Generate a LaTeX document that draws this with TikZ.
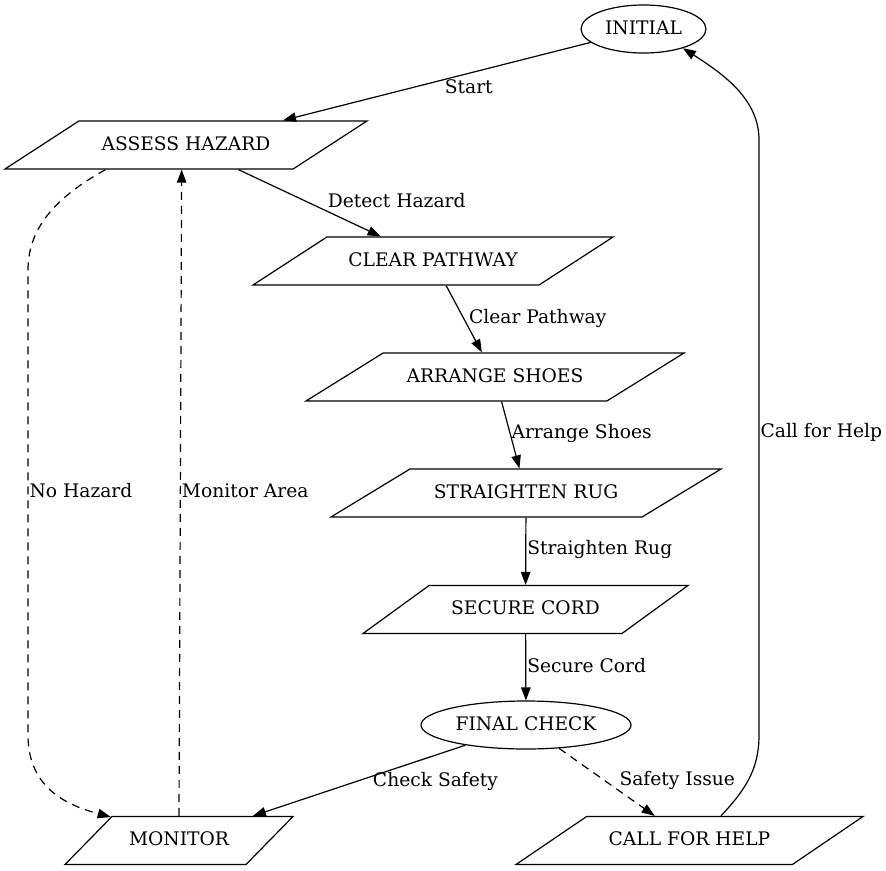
\documentclass[tikz,border=0pt]{standalone}
\usepackage{fontspec}
\setmainfont{DejaVu Serif}
\usetikzlibrary{arrows.meta,shapes.geometric}

\tikzset{
    state/.style={ellipse, draw, line width=1.2bp, inner sep=0pt, text height=14bp, text depth=4bp,
        minimum width=#1, minimum height=48bp},
    para/.style 2 args={trapezium, draw, line width=1.2bp, inner xsep=0pt, inner ysep=15bp,
        text height=14bp, text depth=4bp, trapezium stretches body, minimum width=#1,
        trapezium left angle=#2, trapezium right angle=180-#2},
    flow/.style={-{Triangle[length=13bp,width=9.5bp]}, line width=1.2bp},
    alt/.style={flow, dash pattern=on 8bp off 6bp},
    lbl/.style={inner sep=0pt}
}

\begin{document}
\begin{tikzpicture}[x=1bp, y=-1bp, font=\fontsize{18.67bp}{22bp}\selectfont]
    \useasboundingbox (0,0) rectangle (886,871);

    \node[state=125bp] (initial) at (643.5, 29) {INITIAL};
    \node[para={362bp}{33}] (assess) at (186, 145) {ASSESS HAZARD};
    \node[para={360bp}{33}] (clear) at (433, 261) {CLEAR PATHWAY};
    \node[para={378bp}{31.9}] (arrange) at (495, 377) {ARRANGE SHOES};
    \node[para={390bp}{31.3}] (straighten) at (526, 493) {STRAIGHTEN RUG};
    \node[para={325bp}{36}] (secure) at (525.5, 609.5) {SECURE CORD};
    \node[state=210bp] (final) at (526, 725) {FINAL CHECK};
    \node[para={228bp}{45.6}] (monitor) at (179, 840.5) {MONITOR};
    \node[para={347bp}{34.2}] (call) at (689.5, 840.5) {CALL FOR HELP};

    \draw[flow] (initial) -- (assess) node[lbl, pos=.396, yshift=-13bp] {Start};
    \draw[flow] (assess) -- (clear) node[lbl, pos=.47, anchor=west, xshift=22bp] {Detect Hazard};
    \draw[flow] (clear) -- (arrange) node[lbl, pos=.485, anchor=west, xshift=5bp] {Clear Pathway};
    \draw[flow] (arrange) -- (straighten) node[lbl, pos=.47, anchor=west, xshift=1bp] {Arrange Shoes};
    \draw[flow] (straighten) -- (secure) node[lbl, pos=.48, anchor=west, xshift=1bp] {Straighten Rug};
    \draw[flow] (secure) -- (final) node[lbl, pos=.47, anchor=west, xshift=1bp] {Secure Cord};
    \draw[flow] (final) -- (monitor) node[lbl, pos=.141, yshift=-26bp] {Check Safety};
    \draw[alt] (final) -- (call) node[lbl, pos=.48, anchor=west, xshift=14bp] {Safety Issue};

    % loops back
    \draw[alt] (assess.197.5) .. controls (60, 195) and (28, 225) .. (28, 270)
        -- (28, 735) node[lbl, pos=.475, anchor=west, xshift=1bp] {No Hazard}
        .. controls (28, 790) and (70, 806) .. (monitor.161);
    \draw[alt] (monitor.90) -- (assess.260) node[lbl, pos=.503, anchor=west, xshift=1bp] {Monitor Area};
    \draw[flow] (call.38.5) .. controls (745, 790) and (759, 770) .. (759, 735)
        -- (759, 140) node[lbl, pos=.508, anchor=west, xshift=1bp] {Call for Help}
        .. controls (759, 100) and (725, 75) .. (initial.-26);
\end{tikzpicture}
\end{document}
